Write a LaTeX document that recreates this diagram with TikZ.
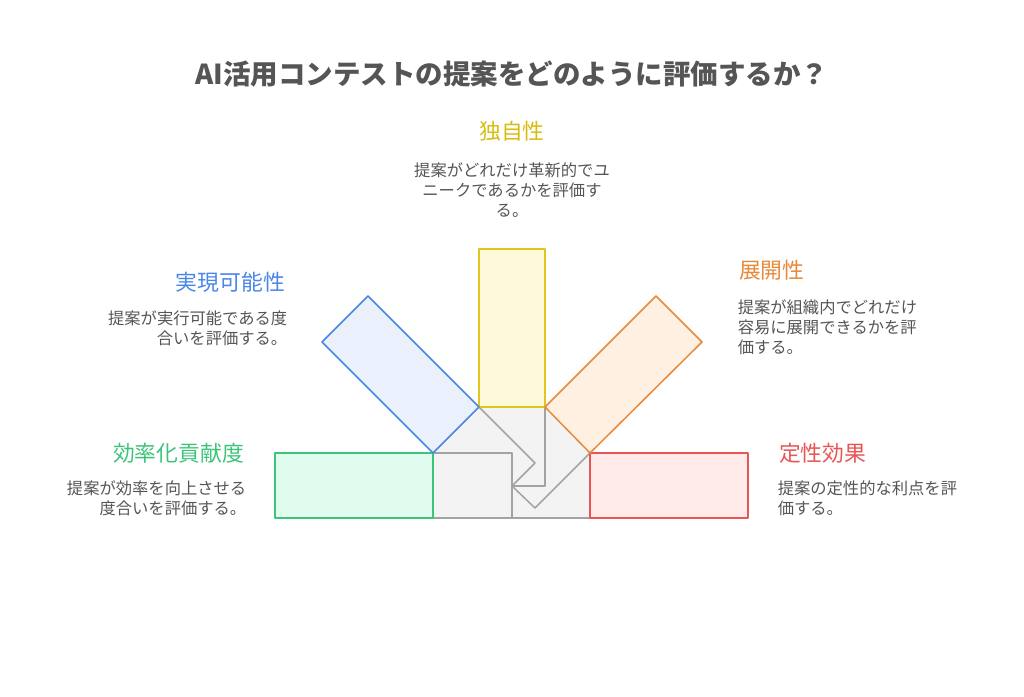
\documentclass[tikz,border=0pt]{standalone}
\usepackage{fontspec}
\setmainfont{Noto Sans CJK JP}
\definecolor{ys}{HTML}{E2C521}\definecolor{yf}{HTML}{FFF9DB}\definecolor{yt}{HTML}{D9BC10}
\definecolor{bs}{HTML}{4A86E8}\definecolor{bf}{HTML}{EAF1FD}
\definecolor{os}{HTML}{E8893A}\definecolor{of}{HTML}{FFF0E1}
\definecolor{gs}{HTML}{3CC47A}\definecolor{gf}{HTML}{E0FCEE}
\definecolor{rs}{HTML}{E85555}\definecolor{rf}{HTML}{FFE9E9}
\definecolor{cs}{HTML}{A3A3A3}\definecolor{cf}{HTML}{F3F3F3}
\definecolor{tx}{HTML}{555555}
\begin{document}
\begin{tikzpicture}[x=1pt,y=-1pt,line width=1.5pt,line join=round,
 lab/.style={font=\fontsize{21.8}{24}\selectfont},
 desc/.style={font=\fontsize{16.3}{20}\selectfont,text=tx,inner sep=0pt}]
\useasboundingbox (0,0) rectangle (1024,696);
\node[font=\fontsize{27.5}{30}\selectfont\bfseries,text=tx] (title) at (512,74) {AI活用コンテストの提案をどのように評価するか？};
% grey center
\fill[cf] (433,453)--(479,407)--(545,407)--(590,453)--(590,518)--(433,518)--cycle;
\draw[cs] (433,518)--(590,518);
\draw[cs] (433,453)--(512,453)--(512,518);
\draw[cs] (479,407)--(535,463)--(512,486)--(535,508)--(590,453);
\draw[cs] (545,407)--(545,486)--(512,486);
% boxes
\draw[gs,fill=gf] (275,453) rectangle (433,518);
\draw[rs,fill=rf] (590,453) rectangle (748,518);
\draw[ys,fill=yf] (479,249) rectangle (545,407);
\draw[bs,fill=bf] (322,342)--(368,296)--(479,407)--(433,453)--cycle;
\draw[os,fill=of] (656,296)--(702,342)--(590,453)--(545,407)--cycle;
% texts
\node[lab,text=yt] (l1) at (512,131) {独自性};
\node[desc,align=center] (d1) at (512,190) {提案がどれだけ革新的でユ\\ニークであるかを評価す\\る。};
\node[lab,text=bs,anchor=east] (l2) at (289,282) {実現可能性};
\node[desc,align=right,anchor=north east] (d2) at (288,310) {提案が実行可能である度\\合いを評価する。};
\node[lab,text=os,anchor=west] (l3) at (735,270) {展開性};
\node[desc,align=left,anchor=north west] (d3) at (737,299) {提案が組織内でどれだけ\\容易に展開できるかを評\\価する。};
\node[lab,text=gs,anchor=east] (l4) at (248,453) {効率化貢献度};
\node[desc,align=right,anchor=north east] (d4) at (247,480) {提案が効率を向上させる\\度合いを評価する。};
\node[lab,text=rs,anchor=west] (l5) at (775,453) {定性効果};
\node[desc,align=left,anchor=north west] (d5) at (777,480) {提案の定性的な利点を評\\価する。};
\end{tikzpicture}
\end{document}
